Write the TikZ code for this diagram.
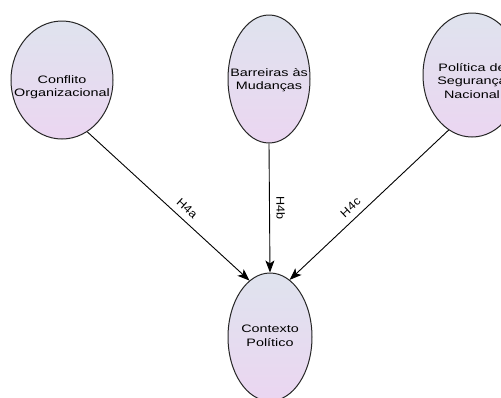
\documentclass[tikz,border=0pt]{standalone}
\usepackage{fontspec}
\usetikzlibrary{shapes.geometric,arrows.meta}
\newfontfamily\bubblefont[FakeStretch=1.33]{Liberation Sans}
\newfontfamily\edgefont[FakeStretch=1.1]{Liberation Sans}
\definecolor{bubbletop}{HTML}{DFE3EE}
\definecolor{bubblebottom}{HTML}{EBD6F1}
\definecolor{rim}{HTML}{262626}
\tikzset{
  bubble/.style={ellipse, draw=rim, line width=1pt,
    top color=bubbletop, bottom color=bubblebottom, inner sep=0pt},
  caption/.style={font=\bubblefont\fontsize{10.8}{13.5}\selectfont,
    align=center, inner sep=0pt, text=black},
  link/.style={draw=black, line width=0.9pt,
    -{Stealth[length=12pt,width=9pt,inset=3pt]}},
  tag/.style={font=\edgefont\fontsize{11.5}{12}\selectfont,
    sloped, above=6.5pt, inner sep=0pt, text=black}
}
\begin{document}
\begin{tikzpicture}[x=1pt,y=-1pt]
  \clip (0,0) rectangle (501,397);
  \fill[white] (0,0) rectangle (501,397);

  % source constructs
  \node[bubble, minimum width=102pt, minimum height=118pt] (A) at (62,80) {};
  \node[bubble, minimum width=82pt, minimum height=128pt] (B) at (269,79) {};
  \node[bubble, minimum width=98pt, minimum height=124pt] (C) at (472,75) {};
  % target construct
  \node[bubble, minimum width=84pt, minimum height=128pt] (D) at (270,337) {};

  \node[caption] (At) at (62,87) {Conflito\\Organizacional};
  \node[caption] (Bt) at (269,80) {Barreiras às\\Mudanças};
  \node[caption] (Ct) at (472,81) {Política de\\Segurança\\Nacional};
  \node[caption] (Dt) at (270,336) {Contexto\\Político};

  % hypotheses
  \draw[link] (A.-64) -- node[tag, pos=0.57] (h4a) {H4a} (D.110);
  \draw[link] (B.south) -- node[tag, pos=0.5] (h4b) {H4b} (D.north);
  \draw[link] (C.-113) -- node[tag, pos=0.57] (h4c) {H4c} (D.71);
\end{tikzpicture}
\end{document}
